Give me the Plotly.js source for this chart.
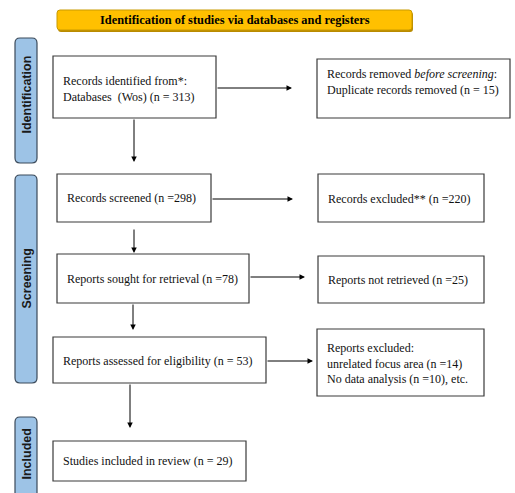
<!DOCTYPE html>
<html>
<head>
<meta charset="utf-8">
<script src="https://cdn.plot.ly/plotly-3.0.1.min.js"></script>
<style>html,body{margin:0;padding:0;background:#fff;}#chart{width:515px;height:493px;}</style>
</head>
<body>
<div id="chart"></div>
<script>
// ---- Data (PRISMA counts and labels) ----
const headerTitle = 'Identification of studies via databases and registers';
const stageLabels = ['Identification', 'Screening', 'Included'];
const nIdentified = 313;
const nDuplicates = 15;
const nScreened = 298;
const nExcluded = 220;
const nSought = 78;
const nNotRetrieved = 25;
const nAssessed = 53;
const nUnrelated = 14;
const nNoData = 10;
const nIncluded = 29;

const boxTexts = [
  'Records identified from*:<br>Databases  (Wos) (n = ' + nIdentified + ')',
  'Records removed <i>before screening</i>:<br>Duplicate records removed (n = ' + nDuplicates + ')',
  'Records screened (n =' + nScreened + ')',
  'Records excluded** (n =' + nExcluded + ')',
  'Reports sought for retrieval (n =' + nSought + ')',
  'Reports not retrieved (n =' + nNotRetrieved + ')',
  'Reports assessed for eligibility (n = ' + nAssessed + ')',
  'Reports excluded:<br>unrelated focus area (n =' + nUnrelated + ')<br>No data analysis (n =' + nNoData + '), etc.',
  'Studies included in review (n = ' + nIncluded + ')'
];

const SERIF = 'Liberation Serif';
const SANS = 'Liberation Sans';

// ---- Layout geometry (pixels, y downward) ----
const boxRects = [
  [53, 56, 216, 118],
  [317, 59, 510, 118],
  [57, 174, 211, 222],
  [318, 174, 484, 222],
  [57, 254, 249, 303],
  [318, 256, 484, 303],
  [53, 337, 266, 383],
  [317, 329, 484, 396],
  [53, 441, 246, 481]
];
const textPos = [
  [61, 89], [325, 82], [65, 198], [326, 199], [65, 279], [326, 280], [61, 361], [325, 363], [61, 461]
];
const sideRects = [
  [15, 38, 37, 163],
  [15, 175, 37, 383],
  [15, 417, 37, 505]
];
const arrows = [
  [216, 88, 292, 88],
  [134, 118, 134, 162],
  [211, 199, 293, 199],
  [134, 228, 134, 253],
  [249, 277, 305, 277],
  [133, 303, 133, 330],
  [266, 361, 313, 361],
  [130, 383, 130, 428]
];

function roundRect(x0, y0, x1, y1, r) {
  return 'M' + (x0 + r) + ',' + y0 + ' L' + (x1 - r) + ',' + y0 +
    ' Q' + x1 + ',' + y0 + ' ' + x1 + ',' + (y0 + r) +
    ' L' + x1 + ',' + (y1 - r) + ' Q' + x1 + ',' + y1 + ' ' + (x1 - r) + ',' + y1 +
    ' L' + (x0 + r) + ',' + y1 + ' Q' + x0 + ',' + y1 + ' ' + x0 + ',' + (y1 - r) +
    ' L' + x0 + ',' + (y0 + r) + ' Q' + x0 + ',' + y0 + ' ' + (x0 + r) + ',' + y0 + ' Z';
}

const shapes = [];
const annotations = [];

// header banner
shapes.push({type: 'path', path: roundRect(58, 12, 413, 32, 3), fillcolor: '#b98b00', line: {width: 0}, layer: 'below'});
shapes.push({type: 'path', path: roundRect(57, 10, 412, 30, 3), fillcolor: '#FFC000', line: {color: '#c99a00', width: 1}});
annotations.push({x: 234.5, y: 20, text: '<b>' + headerTitle + '</b>', showarrow: false,
  font: {family: SERIF, size: 12.4, color: '#000'}, xanchor: 'center', yanchor: 'middle'});

// side stage bars
const sideTextY = [95, 279, 454];
sideRects.forEach(function (r, i) {
  shapes.push({type: 'path', path: roundRect(r[0], r[1], r[2], r[3], 5), fillcolor: '#9DC3E6', line: {color: '#3b4a5a', width: 1.2}});
  annotations.push({x: (r[0] + r[2]) / 2 + 0.5, y: sideTextY[i], text: '<b>' + stageLabels[i] + '</b>', textangle: -90, showarrow: false,
    font: {family: SANS, size: 12.5, color: '#1a1a1a'}, xanchor: 'center', yanchor: 'middle'});
});

// boxes
boxRects.forEach(function (r, i) {
  shapes.push({type: 'rect', x0: r[0], y0: r[1], x1: r[2], y1: r[3], fillcolor: '#fff', line: {color: '#3a3a3a', width: 1.2}});
  annotations.push({x: textPos[i][0], y: textPos[i][1], text: boxTexts[i], showarrow: false, align: 'left',
    xanchor: 'left', yanchor: 'middle', font: {family: SERIF, size: 12, color: '#111'}});
});

// arrows
arrows.forEach(function (a) {
  annotations.push({x: a[2], y: a[3], ax: a[0], ay: a[1], axref: 'x', ayref: 'y', xref: 'x', yref: 'y',
    text: '', showarrow: true, arrowhead: 2, arrowsize: 1.1, arrowwidth: 1, arrowcolor: '#000', standoff: 0});
});

const layout = {
  width: 515, height: 493,
  margin: {l: 0, r: 0, t: 0, b: 0},
  paper_bgcolor: '#fff', plot_bgcolor: '#fff',
  xaxis: {range: [0, 515], visible: false, fixedrange: true},
  yaxis: {range: [493, 0], visible: false, fixedrange: true},
  shapes: shapes,
  annotations: annotations,
  showlegend: false
};

Plotly.newPlot('chart', [], layout, {staticPlot: true, displayModeBar: false});
</script>
</body>
</html>
